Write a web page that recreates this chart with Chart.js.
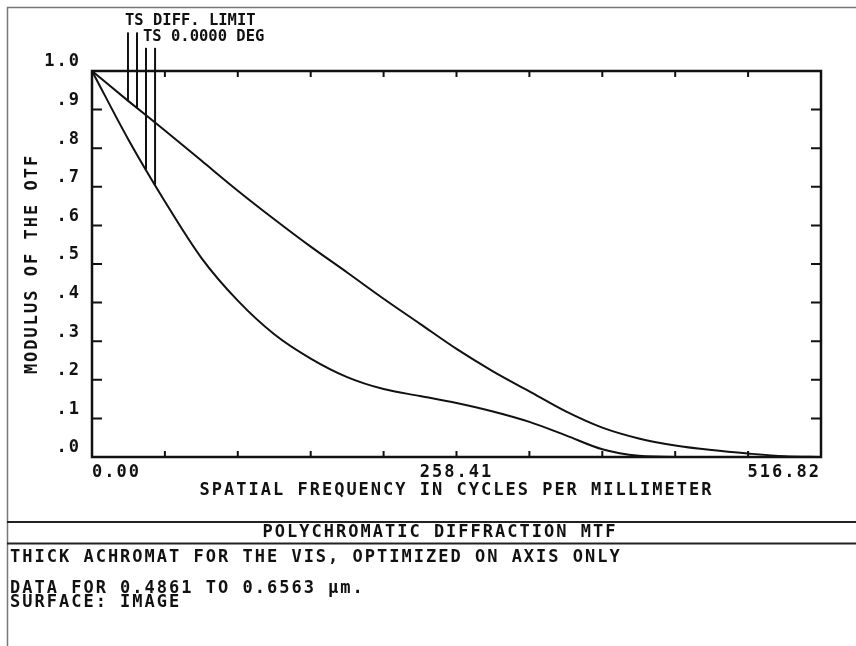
<!DOCTYPE html>
<html>
<head>
<meta charset="utf-8">
<title>Polychromatic Diffraction MTF</title>
<script src="https://cdn.jsdelivr.net/npm/chart.js@4.4.1/dist/chart.umd.min.js"></script>
<style>
  html, body { margin: 0; padding: 0; background: #fff; }
  #mtf { display: block; }
</style>
</head>
<body>
<canvas id="mtf" width="856" height="646"></canvas>
<script>
// --- Data (spatial frequency in cycles/mm vs modulus) ---
const freqs     = [0, 25.84, 51.68, 77.52, 103.36, 129.20, 155.05, 180.89, 206.73, 232.57, 258.41,
                   284.25, 310.09, 335.93, 361.77, 387.61, 413.45, 439.29, 465.14, 490.98, 516.82];
const diffLimit = [1.000, 0.922, 0.846, 0.768, 0.690, 0.616, 0.545, 0.478, 0.410, 0.345, 0.280,
                   0.222, 0.170, 0.118, 0.076, 0.048, 0.030, 0.018, 0.009, 0.002, 0.000];
const tsOnAxis  = [1.000, 0.822, 0.662, 0.516, 0.405, 0.318, 0.255, 0.207, 0.176, 0.158, 0.140,
                   0.118, 0.091, 0.056, 0.020, 0.003, 0.000, 0.000, 0.000, 0.000, 0.000];

const yTicks  = [0, 0.1, 0.2, 0.3, 0.4, 0.5, 0.6, 0.7, 0.8, 0.9, 1.0];
const xLabels = [0, 258.41, 516.82];
const xMax = 516.82;
const xDivisions = 10;

// legend marker frequencies (T, S) for each curve
const diffMarkers = [25.5, 31.9];
const tsMarkers   = [38.3, 44.7];

// --- Texts ---
const xTitle = "SPATIAL FREQUENCY IN CYCLES PER MILLIMETER";
const yTitle = "MODULUS OF THE OTF";
const diffName = "TS DIFF. LIMIT";
const tsName = "TS 0.0000 DEG";
const plotTitle = "POLYCHROMATIC DIFFRACTION MTF";
const infoLines = [
  "THICK ACHROMAT FOR THE VIS, OPTIMIZED ON AXIS ONLY",
  "DATA FOR 0.4861 TO 0.6563 \u00b5m.",
  "SURFACE: IMAGE"
];

// --- Style ---
const FONT = "'DejaVu Sans Mono', 'Liberation Mono', monospace";
const SPACING = "2px";
const INK = "#111";

function pts(xs, ys) { return xs.map((x, i) => ({ x, y: ys[i] })); }
function valueAt(xs, ys, f) {
  for (let i = 1; i < xs.length; i++) {
    if (f <= xs[i]) {
      const t = (f - xs[i - 1]) / (xs[i] - xs[i - 1]);
      return ys[i - 1] + t * (ys[i] - ys[i - 1]);
    }
  }
  return ys[ys.length - 1];
}
function markerLine(f, ys, top) {
  return {
    data: [{ x: f, y: valueAt(freqs, ys, f) }, { x: f, y: top }],
    borderColor: INK, borderWidth: 2, pointRadius: 0, clip: false, tension: 0
  };
}

// --- Frame, inward ticks and text blocks ---
const zemaxFrame = {
  id: "zemaxFrame",
  beforeUpdate(chart) { chart.ctx.letterSpacing = SPACING; },
  beforeDraw(chart) {
    const ctx = chart.ctx;
    ctx.save();
    ctx.fillStyle = "#fff";
    ctx.fillRect(0, 0, chart.width, chart.height);
    ctx.restore();
    ctx.letterSpacing = SPACING;
  },
  afterDraw(chart) {
    const { ctx, chartArea: a, scales: { x, y } } = chart;
    ctx.save();
    // outer frame
    ctx.strokeStyle = "#777";
    ctx.lineWidth = 1.5;
    ctx.beginPath();
    ctx.moveTo(7.5, chart.height); ctx.lineTo(7.5, 7.5); ctx.lineTo(chart.width, 7.5);
    ctx.stroke();
    // separators of the title block
    ctx.strokeStyle = "#222";
    ctx.lineWidth = 2;
    [522, 543.5].forEach(yy => {
      ctx.beginPath(); ctx.moveTo(7, yy); ctx.lineTo(chart.width, yy); ctx.stroke();
    });
    // plot box
    ctx.strokeStyle = INK;
    ctx.lineWidth = 2.5;
    ctx.strokeRect(a.left, a.top, a.right - a.left, a.bottom - a.top);
    // inward ticks
    ctx.lineWidth = 2;
    ctx.beginPath();
    for (let i = 1; i < xDivisions; i++) {
      const px = x.getPixelForValue(xMax * i / xDivisions);
      ctx.moveTo(px, a.bottom); ctx.lineTo(px, a.bottom - 6);
      ctx.moveTo(px, a.top); ctx.lineTo(px, a.top + 6);
    }
    yTicks.slice(1, -1).forEach(v => {
      const py = y.getPixelForValue(v);
      ctx.moveTo(a.left, py); ctx.lineTo(a.left + 10, py);
      ctx.moveTo(a.right, py); ctx.lineTo(a.right - 10, py);
    });
    ctx.stroke();

    // text block
    ctx.fillStyle = INK;
    ctx.font = "bold 17px " + FONT;
    ctx.letterSpacing = SPACING;
    ctx.textBaseline = "middle";
    ctx.textAlign = "center";
    ctx.fillText(plotTitle, 440, 533);
    ctx.textAlign = "left";
    ctx.fillText(infoLines[0], 10, 558);
    ctx.fillText(infoLines[1], 10, 589);
    ctx.fillText(infoLines[2], 10, 603);

    // legend labels above the marker lines
    ctx.letterSpacing = "0px";
    ctx.font = "bold 15.5px " + FONT;
    ctx.fillText(diffName, x.getPixelForValue(diffMarkers[0]) - 3, y.getPixelForValue(1.10) - 11);
    ctx.fillText(tsName, x.getPixelForValue(tsMarkers[0]) - 3, y.getPixelForValue(1.06) - 11);
    ctx.restore();
    ctx.letterSpacing = SPACING;
  }
};

const curve = (ys) => ({
  data: pts(freqs, ys),
  borderColor: INK, borderWidth: 2, pointRadius: 0,
  cubicInterpolationMode: "monotone"
});

const tickFont = { family: FONT, size: 17, weight: "bold" };

new Chart(document.getElementById("mtf"), {
  type: "line",
  data: {
    datasets: [
      curve(diffLimit),
      curve(tsOnAxis),
      ...diffMarkers.map(f => markerLine(f, diffLimit, 1.10)),
      ...tsMarkers.map(f => markerLine(f, tsOnAxis, 1.06))
    ]
  },
  options: {
    responsive: false,
    animation: false,
    devicePixelRatio: 1,
    layout: { padding: { left: 0, right: 35, top: 71, bottom: 139 } },
    plugins: { legend: { display: false }, tooltip: { enabled: false } },
    scales: {
      x: {
        type: "linear", min: 0, max: xMax,
        afterBuildTicks: s => { s.ticks = xLabels.map(v => ({ value: v })); },
        afterFit: s => { s.height = 50; },
        grid: { display: false, drawTicks: false },
        border: { display: false },
        ticks: {
          align: "inner", padding: 5, maxRotation: 0, autoSkip: false,
          color: INK, font: tickFont,
          callback: v => Number(v).toFixed(2)
        },
        title: {
          display: true, text: xTitle, color: INK,
          font: tickFont, padding: { top: 0, bottom: 6 }
        }
      },
      y: {
        min: 0, max: 1,
        afterBuildTicks: s => { s.ticks = yTicks.map(v => ({ value: v })); },
        afterFit: s => { s.width = 92; },
        grid: { display: false, drawTicks: false },
        border: { display: false },
        ticks: {
          padding: 11, labelOffset: -9, color: INK, font: tickFont,
          callback: v => v >= 1 ? "1.0" : "." + Math.round(v * 10)
        },
        title: {
          display: true, text: yTitle, color: INK,
          font: tickFont, padding: { top: 22, bottom: 0 }
        }
      }
    }
  },
  plugins: [zemaxFrame]
});
</script>
</body>
</html>
